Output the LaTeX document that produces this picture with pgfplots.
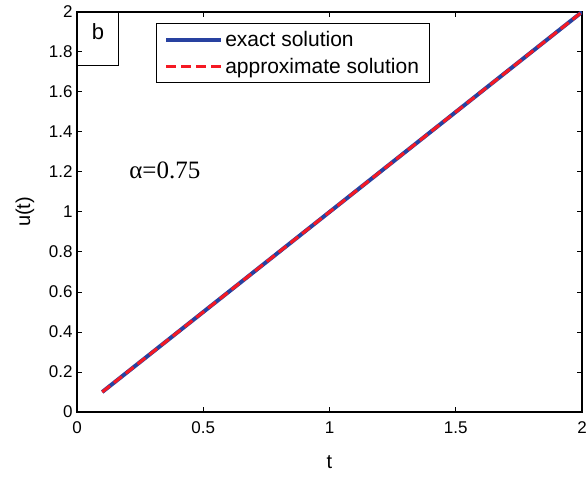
\documentclass[border=0pt]{standalone}
\usepackage{fontspec}
\setmainfont{Liberation Sans}
\newfontfamily\timesfont{Liberation Serif}
\usepackage{pgfplots}
\pgfplotsset{compat=1.18}
\definecolor{exblue}{RGB}{40,65,160}
\definecolor{apred}{RGB}{245,25,35}
\begin{document}
\begin{tikzpicture}
\begin{axis}[
  scale only axis, width=505pt, height=400pt,
  xmin=0, xmax=2, ymin=0, ymax=2,
  xtick={0,0.5,1,1.5,2},
  ytick={0,0.2,0.4,0.6,0.8,1,1.2,1.4,1.6,1.8,2},
  yticklabels={0,0.2,0.4,0.6,0.8,1,1.2,1.4,1.6,1.8,2},
  xticklabels={0,0.5,1,1.5,2},
  tick align=inside, major tick length=5pt,
  every tick/.style={black, line width=1pt},
  axis line style={line width=1.2pt},
  ticklabel style={font=\fontsize{17}{20}\selectfont},
  xticklabel style={yshift=-6pt},
  yticklabel style={xshift=-1pt},
  label style={font=\fontsize{20}{23}\selectfont},
  xlabel={t}, ylabel={u(t)},
  xlabel style={at={(axis description cs:0.5,0)}, anchor=center, yshift=-50pt},
  ylabel style={at={(axis description cs:0,0.5)}, anchor=center, yshift=52pt},
  legend style={at={(0.156,0.973)}, anchor=north west, draw=black, line width=1pt,
    font=\fontsize{21}{25}\selectfont, inner xsep=8pt, inner ysep=6pt,
    nodes={inner sep=2pt}, row sep=6pt},
  legend cell align=left,
  legend image code/.code={\draw[#1] (0pt,0pt) -- (55pt,0pt);},
]
\addplot[exblue, line width=4pt] coordinates {(0.1,0.1) (0.5,0.5) (1,1) (1.5,1.5) (2,2)};
\addlegendentry{exact solution}
\addplot[apred, line width=3pt, dash pattern=on 10pt off 5pt] coordinates {(0.1,0.1) (0.5,0.5) (1,1) (1.5,1.5) (2,2)};
\addlegendentry{approximate solution}
\draw[line width=1pt] (axis description cs:0,1) rectangle (axis description cs:0.0826,0.865);
\node[font=\fontsize{22}{26}\selectfont] at (axis description cs:0.0416,0.951) {b};
\node[font=\timesfont\fontsize{25}{29}\selectfont] at (axis cs:0.348,1.21) {α=0.75};
\end{axis}
\pgfresetboundingbox
\path ([shift={(-77pt,-65pt)}]current axis.south west) rectangle ([shift={(5pt,12pt)}]current axis.north east);
\end{tikzpicture}
\end{document}
